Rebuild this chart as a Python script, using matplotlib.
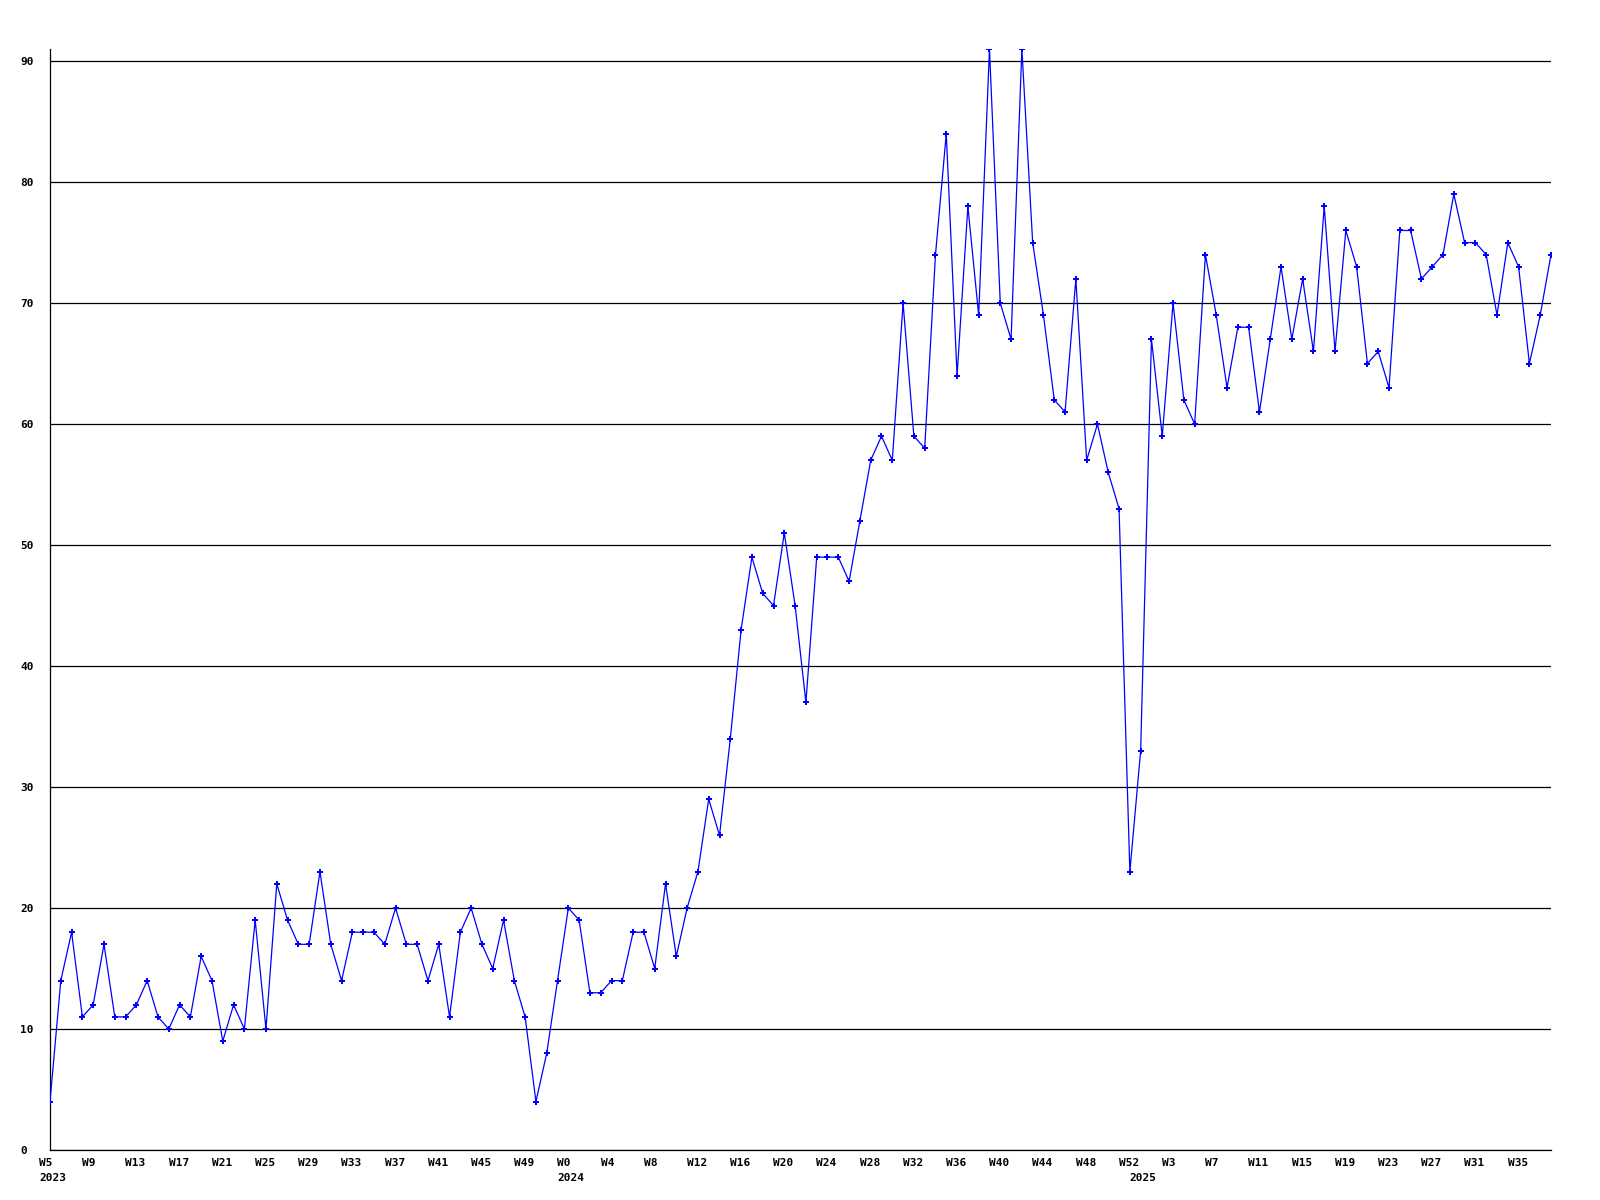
import matplotlib
matplotlib.use("Agg")
import matplotlib.pyplot as plt
from matplotlib.transforms import ScaledTranslation, blended_transform_factory

# weekly counts, W5 2023 .. W38 2025
values = [4, 14, 18, 11, 12, 17, 11, 11, 12, 14, 11, 10, 12, 11, 16, 14, 9, 12, 10, 19,
          10, 22, 19, 17, 17, 23, 17, 14, 18, 18, 18, 17, 20, 17, 17, 14, 17, 11, 18, 20,
          17, 15, 19, 14, 11, 4, 8, 14, 20, 19, 13, 13, 14, 14, 18, 18, 15, 22, 16, 20,
          23, 29, 26, 34, 43, 49, 46, 45, 51, 45, 37, 49, 49, 49, 47, 52, 57, 59, 57, 70,
          59, 58, 74, 84, 64, 78, 69, 91, 70, 67, 91, 75, 69, 62, 61, 72, 57, 60, 56, 53,
          23, 33, 67, 59, 70, 62, 60, 74, 69, 63, 68, 68, 61, 67, 73, 67, 72, 66, 78, 66,
          76, 73, 65, 66, 63, 76, 76, 72, 73, 74, 79, 75, 75, 74, 69, 75, 73, 65, 69, 74]

week_labels = ["W5", "W9", "W13", "W17", "W21", "W25", "W29", "W33", "W37", "W41", "W45", "W49",
               "W0", "W4", "W8", "W12", "W16", "W20", "W24", "W28", "W32", "W36", "W40",
               "W44", "W48", "W52",
               "W3", "W7", "W11", "W15", "W19", "W23", "W27", "W31", "W35"]
years = ["2023", "2024", "2025"]
year_start = [0, 48, 101]   # index of first week of each year
y_ticks = [0, 10, 20, 30, 40, 50, 60, 70, 80, 90]

tick_pos = [4 * i for i in range(len(week_labels))]

plt.rcParams['font.family'] = ['DejaVu Sans Mono']

fig = plt.figure(figsize=(16, 12), dpi=100)
ax = fig.add_axes([50 / 1600, 50 / 1200, 1501 / 1600, 1101 / 1200])

x = list(range(len(values)))
ax.plot(x, values, color='#0000ff', linewidth=0.9, marker='P', markersize=4.5,
        markeredgewidth=0, markerfacecolor='#0000ff', zorder=3)

ax.set_xlim(0, len(values) - 1)
ax.set_ylim(0, 91)

ax.set_yticks(y_ticks)
ax.set_yticklabels([str(v) for v in y_ticks])
ax.yaxis.grid(True, color='black', linewidth=0.9)
ax.set_axisbelow(True)

ax.set_xticks(tick_pos)
ax.set_xticklabels(week_labels)

for s in ['top', 'right']:
    ax.spines[s].set_visible(False)
for s in ['left', 'bottom']:
    ax.spines[s].set_color('black')
    ax.spines[s].set_linewidth(0.9)

ax.tick_params(axis='both', length=0, labelsize=8, colors='black')
ax.tick_params(axis='y', pad=21.6)
ax.tick_params(axis='x', pad=6)
for lab in ax.get_yticklabels():
    lab.set_horizontalalignment('left')
    lab.set_fontweight('bold')
shift = ScaledTranslation(-11 / 100, 0, fig.dpi_scale_trans)
for lab in ax.get_xticklabels():
    lab.set_horizontalalignment('left')
    lab.set_fontweight('bold')
    lab.set_transform(lab.get_transform() + shift)

# year names on a second row, under the first week of each year
trans = blended_transform_factory(ax.transData, ax.transAxes)
year_shift = ScaledTranslation(-11 / 100, -23 / 100, fig.dpi_scale_trans)
for pos, yr in zip(year_start, years):
    ax.text(pos, 0, yr, transform=trans + year_shift, ha='left', va='top',
            fontsize=8, fontweight='bold', color='black')

plt.savefig('out.png', dpi=100)
plt.close()
